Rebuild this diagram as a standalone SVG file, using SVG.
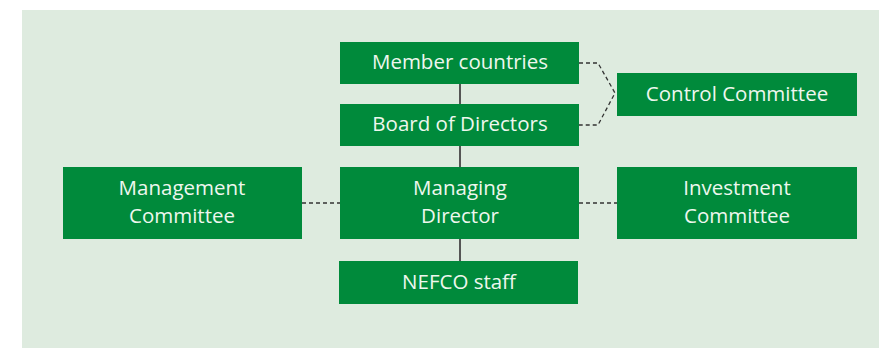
<svg xmlns="http://www.w3.org/2000/svg" width="879" height="348" viewBox="0 0 879 348">
<style>
.box{fill:#008a3b}
.t{font-family:"Open Sans","Liberation Sans",sans-serif;font-size:20.5px;fill:#eef7ee;text-anchor:middle}
.solid{stroke:#555;stroke-width:2;fill:none}
.dash{stroke:#333;stroke-width:1.3;stroke-dasharray:4 3;fill:none}
</style>
<rect x="0" y="0" width="879" height="348" fill="#fff"/>
<rect x="22" y="10" width="857" height="338" fill="#deebdf"/>
<g id="connectors">
<line class="solid" x1="460" y1="84" x2="460" y2="104"/>
<line class="solid" x1="460" y1="146" x2="460" y2="167"/>
<line class="solid" x1="460" y1="239" x2="460" y2="261"/>
<polyline class="dash" points="579,63 598,63 615,93 598,125 579,125"/>
<line class="dash" x1="302" y1="203" x2="340" y2="203"/>
<line class="dash" x1="579" y1="203" x2="617" y2="203"/>
</g>
<g id="member-countries"><rect class="box" x="340" y="42" width="239" height="42"/><text class="t" x="460" y="69">Member countries</text></g>
<g id="board-of-directors"><rect class="box" x="340" y="104" width="239" height="42"/><text class="t" x="460" y="131">Board of Directors</text></g>
<g id="control-committee"><rect class="box" x="617" y="73" width="240" height="43"/><text class="t" x="737" y="101">Control Committee</text></g>
<g id="management-committee"><rect class="box" x="63" y="167" width="239" height="72"/><text class="t" x="182" y="195">Management</text><text class="t" x="182" y="223">Committee</text></g>
<g id="managing-director"><rect class="box" x="340" y="167" width="239" height="72"/><text class="t" x="460" y="195">Managing</text><text class="t" x="460" y="223">Director</text></g>
<g id="investment-committee"><rect class="box" x="617" y="167" width="240" height="72"/><text class="t" x="737" y="195">Investment</text><text class="t" x="737" y="223">Committee</text></g>
<g id="nefco-staff"><rect class="box" x="339" y="261" width="239" height="43"/><text class="t" x="459" y="289">NEFCO staff</text></g>
</svg>
